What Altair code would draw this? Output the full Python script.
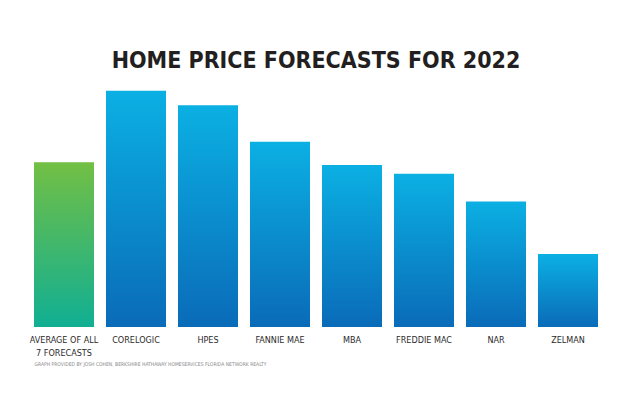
import altair as alt
import pandas as pd

categories = ["AVERAGE OF ALL|7 FORECASTS", "CORELOGIC", "HPES", "FANNIE MAE",
              "MBA", "FREDDIE MAC", "NAR", "ZELMAN"]
values = [11.3, 16.2, 15.2, 12.7, 11.1, 10.5, 8.6, 5.0]
groups = ["avg", "f", "f", "f", "f", "f", "f", "f"]

df = pd.DataFrame({"cat": categories, "val": values, "grp": groups})

FONT = "DejaVu Sans Condensed, DejaVu Sans, sans-serif"

x = alt.X("cat:N", sort=categories,
          scale=alt.Scale(paddingInner=1/6, paddingOuter=1/12),
          axis=alt.Axis(labelExpr="split(datum.label, '|')", labelAngle=0,
                        labelFont=FONT, labelFontSize=9, labelFontWeight="normal",
                        labelColor="#2b2b2b", labelPadding=8, labelLineHeight=13,
                        labelBaseline="top",
                        domain=False, ticks=False,
                        title="GRAPH PROVIDED BY JOSH COHEN, BERKSHIRE HATHAWAY HOMESERVICES FLORIDA NETWORK REALTY",
                        titleFont=FONT, titleFontSize=5, titleFontWeight="normal",
                        titleColor="#8a8a8a", titleAnchor="start", titleAlign="left",
                        titleX=6, titleY=36, titleBaseline="middle"))
y = alt.Y("val:Q", scale=alt.Scale(domain=[0, 17], nice=False), axis=None)

green = alt.Gradient(gradient="linear", x1=0, y1=0, x2=0, y2=1,
                     stops=[alt.GradientStop(color="#72BF44", offset=0),
                            alt.GradientStop(color="#10AF93", offset=1)])
blue = alt.Gradient(gradient="linear", x1=0, y1=0, x2=0, y2=1,
                    stops=[alt.GradientStop(color="#0BB0E3", offset=0),
                           alt.GradientStop(color="#0A6BB8", offset=1)])

base = alt.Chart(df)
avg = base.transform_filter(alt.datum.grp == "avg").mark_bar(color=green).encode(x=x, y=y)
rest = base.transform_filter(alt.datum.grp == "f").mark_bar(color=blue).encode(x=x, y=y)

chart = alt.layer(avg, rest).properties(
    width=576, height=248,
    background="white",
    title=alt.TitleParams("HOME PRICE FORECASTS FOR 2022", font=FONT, fontSize=23,
                          fontWeight="bold", color="#231F20", anchor="middle", offset=6),
    autosize=alt.AutoSizeParams(type="none"),
    padding={"left": 28, "top": 79, "right": 26, "bottom": 73},
).configure_view(stroke="transparent", strokeWidth=0)

chart.save("out.html", embed_options={"renderer": "svg", "actions": False})
